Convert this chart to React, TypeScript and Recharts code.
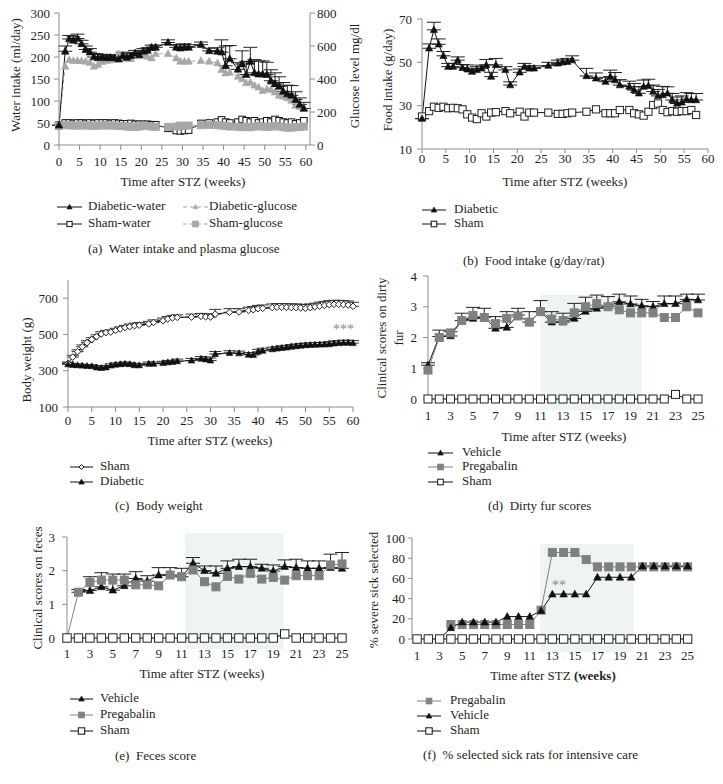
import React from 'react'
import { LineChart, Line, XAxis, YAxis, ErrorBar, ReferenceArea, ReferenceDot } from 'recharts'

const FONT = "'Liberation Serif', 'Times New Roman', serif"
const INK = '#231f20'
const AXIS = '#8c8c8c'
const BLACK = '#111111'
const GRAY_A = '#a8a8a8'
const GRAY_P = '#808080'
const SHADE = '#eef3f4'

// (a) water intake + glucose
const weeksA = [0, 1.5, 2.5, 3.5, 4.5, 5.5, 6.5, 7.5, 8.5, 9.5,
  10.5, 11.5, 12.5, 13.5, 14.5, 15.5, 16.5, 17.5, 18.5, 19.5,
  20.5, 21.5, 22.5, 23.5, 26.5, 28.5, 29.5, 30.5, 31.5, 34.5,
  36.5, 38.5, 39.5, 40.5, 41.5, 43.5, 44.5, 45.5, 46.5, 47.5,
  48.5, 49.5, 50.5, 51.5, 52.5, 53.5, 54.5, 55.5, 56.5, 57.5,
  58.5, 59.5]
const diabeticWater = [45, 213, 241, 238, 242, 230, 217, 211, 200, 198,
  200, 198, 199, 198, 195, 203, 199, 203, 209, 205,
  213, 215, 222, 222, 233, 222, 220, 222, 222, 228,
  214, 213, 211, 180, 196, 172, 184, 160, 190, 164,
  161, 161, 160, 146, 139, 133, 122, 116, 113, 103,
  92, 83]
const diabeticWaterErr = [0, 12, 8, 8, 10, 8, 8, 8, 8, 8,
  6, 6, 6, 6, 6, 8, 8, 6, 6, 6,
  6, 6, 5, 5, 6, 6, 8, 8, 6, 6,
  6, 8, 28, 45, 30, 15, 30, 30, 32, 30,
  30, 30, 28, 25, 25, 22, 20, 20, 22, 18,
  15, 14]
const diabeticGlucose = [120, 477, 517, 511, 511, 511, 507, 500, 477, 487,
  505, 511, 515, 520, 551, 527, 525, 523, 547, 540,
  547, 537, 527, 553, 553, 527, 507, 507, 507, 511,
  507, 497, 457, 436, 440, 416, 400, 376, 380, 362,
  350, 329, 340, 335, 320, 301, 295, 285, 270, 240,
  232, 225]
const shamWater = [45, 50, 50, 49, 50, 50, 49, 50, 49, 50,
  50, 50, 49, 50, 49, 48, 48, 49, 47, 47,
  47, 47, 46, 46, 38, 33, 32, 33, 34, 49,
  50, 52, 57, 52, 50, 52, 58, 55, 52, 55,
  50, 52, 55, 52, 58, 55, 52, 50, 52, 48,
  50, 55]
const shamGlucose = [115, 120, 120, 118, 118, 120, 118, 118, 116, 118,
  118, 120, 118, 118, 115, 115, 112, 112, 110, 112,
  118, 115, 112, 110, 110, 112, 118, 115, 118, 120,
  122, 120, 118, 115, 112, 110, 108, 110, 108, 112,
  115, 112, 110, 112, 115, 112, 108, 105, 106, 108,
  110, 112]

// (b) food intake
const weeksB = [0, 1.5, 2.5, 3.5, 4.5, 5.5, 6.5, 7.5, 8.5, 9.5,
  10.5, 11.5, 12.5, 13.5, 14.5, 15.5, 17.5, 18.5, 20.5, 21.5,
  22.5, 23.5, 26.5, 28.5, 29.5, 30.5, 31.5, 34.5, 36.5, 38.5,
  39.5, 40.5, 41.5, 43.5, 44.5, 45.5, 46.5, 47.5, 48.5, 49.5,
  50.5, 51.5, 52.5, 53.5, 54.5, 55.5, 56.5, 57.5]
const diabeticFood = [24, 56.5, 65, 58.3, 53, 48, 48, 51, 47.5, 46.8,
  45.7, 46.5, 47.2, 48.8, 43.4, 48.8, 46.5, 39.5, 45.4, 48,
  47.2, 47.2, 48.5, 49.5, 50, 50.3, 51, 43.7, 42.6, 41.1,
  43.4, 41.8, 39.5, 38.8, 37.2, 35.7, 38.8, 39.2, 36.5, 34.5,
  34.9, 35.7, 32.6, 31, 31.5, 33, 32.6, 32.6]
const diabeticFoodErr = [0, 2, 3.5, 2.5, 2, 1.5, 1.5, 1.5, 1.5, 2,
  1.5, 1.5, 1.5, 2.5, 2, 3, 1.5, 1.5, 1.5, 1.5,
  1.2, 1.2, 1.5, 1.5, 1.5, 1.5, 2, 3.5, 2.5, 2,
  3, 3.5, 2.5, 2.5, 3, 3, 3, 3, 3, 3,
  4, 3, 3, 3, 3, 3, 3, 3]
const shamFood = [25, 27.5, 29.5, 29, 29.5, 28.8, 29, 28.8, 28.3, 26,
  24.5, 23.8, 26.5, 25, 26.8, 27, 27.5, 26.5, 27.2, 25,
  26.8, 26.8, 26.8, 26.2, 26.2, 26.5, 26.8, 27.2, 28.3, 26.5,
  26.5, 26.5, 28, 28, 26.5, 26, 25.4, 27.2, 30.3, 31,
  28, 27, 27.5, 27.2, 27.5, 27.5, 28, 25.7]

// (c) body weight
const weeksC = [0, 1, 2, 3, 4, 5, 6, 7, 8, 9, 10, 11, 12, 13, 14, 15,
  17, 18, 20, 21, 22, 23, 26, 28, 29, 30, 31, 34, 36, 38, 39, 40, 41,
  43, 44, 45, 46, 47, 48, 49, 50, 51, 52, 53, 54, 55, 56, 57, 58, 59, 60]
const shamWeight = [340, 375, 405, 432, 455, 472, 488, 503, 510, 513, 522, 530, 538, 543, 548, 551,
  558, 566, 576, 585, 591, 594, 596, 600, 597, 596, 612, 622, 624, 632, 636, 642, 644,
  648, 650, 650, 649, 648, 648, 646, 644, 648, 652, 656, 660, 664, 666, 666, 664, 662, 655]
const shamWeightErr = [8, 10, 10, 10, 10, 10, 10, 12, 12, 12, 12, 12, 12, 14, 14, 14,
  14, 14, 14, 14, 14, 14, 16, 16, 16, 16, 26, 20, 18, 18, 18, 18, 18,
  20, 20, 20, 20, 20, 20, 20, 20, 20, 20, 22, 22, 22, 22, 22, 22, 22, 22]
const diabeticWeight = [335, 332, 330, 328, 326, 325, 318, 315, 318, 328, 333, 336, 338, 336, 330, 330,
  338, 338, 342, 346, 348, 352, 356, 366, 362, 356, 392, 398, 396, 388, 386, 404, 410,
  418, 422, 425, 428, 432, 435, 438, 440, 442, 443, 444, 445, 446, 450, 452, 454, 454, 452]
const diabeticWeightErr = [8, 8, 8, 8, 8, 8, 10, 10, 10, 10, 10, 10, 10, 10, 10, 10,
  10, 10, 10, 10, 10, 12, 12, 12, 14, 14, 14, 12, 12, 12, 12, 14, 14,
  12, 12, 12, 12, 12, 12, 12, 12, 12, 12, 12, 12, 14, 14, 14, 14, 14, 14]

// (d)-(f) weekly scores
const weeks25 = [1, 2, 3, 4, 5, 6, 7, 8, 9, 10, 11, 12, 13, 14, 15, 16, 17, 18, 19, 20, 21, 22, 23, 24, 25]
const vehicleFur = [1.1, 2.03, 2.05, 2.55, 2.62, 2.66, 2.3, 2.33, 2.73, 2.5, 2.84, 2.5, 2.5, 2.62, 2.85, 2.95, 3.02, 3.16, 3.09, 3.03, 3.0, 3.1, 3.1, 3.24, 3.22]
const vehicleFurErr = [0.08, 0.21, 0.14, 0.24, 0.36, 0.29, 0.38, 0.51, 0.22, 0.34, 0.36, 0.34, 0.29, 0.49, 0.46, 0.43, 0.31, 0.25, 0.26, 0.21, 0.17, 0.25, 0.25, 0.17, 0.19]
const pregabalinFur = [0.94, 2.0, 2.15, 2.55, 2.72, 2.65, 2.45, 2.62, 2.7, 2.5, 2.84, 2.6, 2.55, 2.8, 3.0, 3.1, 3.0, 2.9, 2.8, 2.8, 2.8, 2.65, 2.65, 3.0, 2.8]
const shamFur = [0, 0, 0, 0, 0, 0, 0, 0, 0, 0, 0, 0, 0, 0, 0, 0, 0, 0, 0, 0, 0, 0, 0.15, 0, 0]

const vehicleFeces = [null, 1.36, 1.41, 1.52, 1.42, 1.55, 1.77, 1.69, 1.87, 1.87, 1.82, 2.22, 2.0, 1.92, 2.07, 2.12, 2.12, 2.07, 1.99, 2.12, 2.09, 2.07, 2.07, 2.09, 2.07]
const vehicleFecesErr = [0, 0.08, 0.41, 0.42, 0.48, 0.35, 0.2, 0.16, 0.22, 0.22, 0.25, 0.17, 0.14, 0.22, 0.22, 0.22, 0.22, 0.12, 0.18, 0.2, 0.25, 0.22, 0.22, 0.4, 0.47]
const pregabalinFeces = [0, 1.36, 1.65, 1.72, 1.72, 1.72, 1.58, 1.58, 1.55, 1.87, 1.82, 2.02, 1.67, 1.52, 1.83, 1.75, 1.92, 1.75, 1.8, 1.72, 1.85, 1.85, 1.85, 2.17, 2.2]
const shamFeces = [0, 0, 0, 0, 0, 0, 0, 0, 0, 0, 0, 0, 0, 0, 0, 0, 0, 0, 0, 0.12, 0, 0, 0, 0, 0]

const vehicleSick = [null, null, 0, 11.1, 16.7, 16.7, 16.7, 16.7, 22.2, 22.2, 22.2, 28, 44.4, 44.4, 44.4, 44.4, 61.1, 61.1, 61.1, 61.1, 72.2, 72.2, 72.2, 72.2, 72.2]
const pregabalinSick = [null, null, null, 14.3, 14.3, 14.3, 14.3, 14.3, 14.3, 14.3, 14.3, 28.6, 85.7, 85.7, 85.7, 78.6, 71.4, 71.4, 71.4, 71.4, 71.4, 71.4, 71.4, 71.4, 71.4]
const shamSick = [0, 0, 0, 0, 0, 0, 0, 0, 0, 0, 0, 0, 0, 0, 0, 0, 0, 0, 0, 0, 0, 0, 0, 0, 0]

const ticks60 = [0, 5, 10, 15, 20, 25, 30, 35, 40, 45, 50, 55, 60]
const ticksOdd = [1, 3, 5, 7, 9, 11, 13, 15, 17, 19, 21, 23, 25]

const up = (v: number | null, e: number) => (v == null ? null : [0, e])

const tableA = weeksA.map((w, i) => ({
  week: w, dWater: diabeticWater[i], dWaterErr: up(diabeticWater[i], diabeticWaterErr[i]),
  dGlu: diabeticGlucose[i], sWater: shamWater[i], sGlu: shamGlucose[i],
}))
const tableB = weeksB.map((w, i) => ({
  week: w, diabetic: diabeticFood[i], diabeticErr: up(diabeticFood[i], diabeticFoodErr[i]), sham: shamFood[i],
}))
const tableC = weeksC.map((w, i) => ({
  week: w, sham: shamWeight[i], shamErr: up(shamWeight[i], shamWeightErr[i]),
  diabetic: diabeticWeight[i], diabeticErr: up(diabeticWeight[i], diabeticWeightErr[i]),
}))
const tableD = weeks25.map((w, i) => ({
  week: w, vehicle: vehicleFur[i], vehicleErr: up(vehicleFur[i], vehicleFurErr[i]), pregabalin: pregabalinFur[i], sham: shamFur[i],
}))
const tableE = weeks25.map((w, i) => ({
  week: w, vehicle: vehicleFeces[i], vehicleErr: up(vehicleFeces[i], vehicleFecesErr[i]), pregabalin: pregabalinFeces[i], sham: shamFeces[i],
}))
const tableF = weeks25.map((w, i) => ({
  week: w, vehicle: vehicleSick[i], pregabalin: pregabalinSick[i], sham: shamSick[i],
}))

type Shape = 'tri' | 'sq' | 'dia'

const drawMarker = (shape: Shape, s: number, fill: string, stroke: string, cx: number, cy: number, key: string) => {
  if (shape === 'tri') {
    return <polygon key={key} points={`${cx},${cy - s * 1.05} ${cx - s},${cy + s * 0.75} ${cx + s},${cy + s * 0.75}`} fill={fill} stroke={stroke} strokeWidth={0.6} />
  }
  if (shape === 'sq') {
    return <rect key={key} x={cx - s} y={cy - s} width={s * 2} height={s * 2} fill={fill} stroke={stroke} strokeWidth={1} />
  }
  return <polygon key={key} points={`${cx},${cy - s} ${cx + s},${cy} ${cx},${cy + s} ${cx - s},${cy}`} fill={fill} stroke={stroke} strokeWidth={1} />
}

const marker = (shape: Shape, s: number, fill: string, stroke: string, skipZero = false) => (p: any) => {
  const { cx, cy, index, value } = p
  const key = `${shape}-${index}`
  if (cx == null || cy == null || value == null || (skipZero && value === 0)) return <g key={key} />
  return drawMarker(shape, s, fill, stroke, cx, cy, key)
}

const tickStyle = { fontSize: 13, fill: INK, fontFamily: FONT }

const axisProps = {
  axisLine: { stroke: AXIS },
  tickLine: { stroke: AXIS },
  tick: tickStyle,
  interval: 0 as const,
}

function PanelA() {
  return (
    <LineChart width={366} height={195} data={tableA} margin={{ top: 13, right: 6, bottom: 5, left: 14 }}>
      <XAxis type="number" dataKey="week" domain={[0, 61]} ticks={ticks60} height={45} tickSize={5} tickMargin={7} {...axisProps} />
      <YAxis yAxisId="left" domain={[0, 300]} ticks={[0, 50, 100, 150, 200, 250, 300]} width={45} tickSize={5} tickMargin={4} {...axisProps} />
      <YAxis yAxisId="right" orientation="right" domain={[0, 800]} ticks={[0, 200, 400, 600, 800]} width={50} tickSize={5} tickMargin={2} {...axisProps} />
      <Line yAxisId="left" dataKey="sWater" stroke={BLACK} strokeWidth={1} dot={marker('sq', 3.3, '#fff', BLACK)} isAnimationActive={false} />
      <Line yAxisId="right" dataKey="sGlu" stroke={GRAY_A} strokeWidth={1} strokeDasharray="4 3" dot={marker('sq', 3.5, GRAY_A, GRAY_A)} isAnimationActive={false} />
      <Line yAxisId="right" dataKey="dGlu" stroke={GRAY_A} strokeWidth={1} strokeDasharray="4 3" dot={marker('tri', 3.8, GRAY_A, GRAY_A)} isAnimationActive={false} />
      <Line yAxisId="left" dataKey="dWater" stroke={BLACK} strokeWidth={1} dot={marker('tri', 3.8, BLACK, BLACK)} isAnimationActive={false}>
        <ErrorBar dataKey="dWaterErr" width={7} stroke="#222" strokeWidth={1} direction="y" isAnimationActive={false} />
      </Line>
    </LineChart>
  )
}

function PanelB() {
  return (
    <LineChart width={360} height={195} data={tableB} margin={{ top: 19, right: 12, bottom: 4, left: 22 }}>
      <XAxis type="number" dataKey="week" domain={[0, 60]} ticks={ticks60} height={42} tickSize={4} tickMargin={1} {...axisProps} />
      <YAxis domain={[10, 70]} ticks={[10, 30, 50, 70]} width={40} tickSize={5} tickMargin={5} {...axisProps} />
      <Line dataKey="sham" stroke={BLACK} strokeWidth={1} dot={marker('sq', 3.6, '#fff', '#222')} isAnimationActive={false} />
      <Line dataKey="diabetic" stroke={BLACK} strokeWidth={1} dot={marker('tri', 3.6, BLACK, BLACK)} isAnimationActive={false}>
        <ErrorBar dataKey="diabeticErr" width={7} stroke="#222" strokeWidth={1} direction="y" isAnimationActive={false} />
      </Line>
    </LineChart>
  )
}

function PanelC() {
  return (
    <LineChart width={360} height={190} data={tableC} margin={{ top: 20, right: 7, bottom: 3, left: 20 }}>
      <XAxis type="number" dataKey="week" domain={[0, 60]} ticks={ticks60} height={40} tickSize={5} tickMargin={4} {...axisProps} />
      <YAxis domain={[100, 800]} ticks={[100, 300, 500, 700]} width={48} tickSize={5} tickMargin={5} {...axisProps} />
      <Line dataKey="sham" stroke={BLACK} strokeWidth={1} dot={marker('dia', 3.3, '#fff', '#222')} isAnimationActive={false}>
        <ErrorBar dataKey="shamErr" width={6} stroke="#333" strokeWidth={1} direction="y" isAnimationActive={false} />
      </Line>
      <Line dataKey="diabetic" stroke={BLACK} strokeWidth={1} dot={marker('tri', 3.3, BLACK, BLACK)} isAnimationActive={false}>
        <ErrorBar dataKey="diabeticErr" width={6} stroke="#333" strokeWidth={1} direction="y" isAnimationActive={false} />
      </Line>
      <ReferenceDot x={58} y={528} r={0} fill="none" stroke="none"
        label={{ value: '***', position: 'center', fill: '#8a8a8a', fontSize: 14, fontFamily: FONT }} />
    </LineChart>
  )
}

function PanelD() {
  return (
    <LineChart width={360} height={190} data={tableD} margin={{ top: 16, right: 22, bottom: 3, left: 20 }}>
      <ReferenceArea x1={11} x2={20} y1={-0.36} y2={3.38} ifOverflow="visible" fill={SHADE} fillOpacity={1} stroke="none" />
      <XAxis type="number" dataKey="week" domain={[1, 25]} ticks={ticksOdd} height={48} tickSize={0} tickMargin={12}
        {...axisProps} axisLine={false} tickLine={false} />
      <YAxis domain={[0, 4]} ticks={[0, 1, 2, 3, 4]} width={48} tickSize={5} tickMargin={6} {...axisProps} />
      <Line dataKey="sham" stroke={BLACK} strokeWidth={1} dot={marker('sq', 4, '#fff', '#222')} isAnimationActive={false} />
      <Line dataKey="vehicle" stroke={BLACK} strokeWidth={1} dot={marker('tri', 3.8, BLACK, BLACK)} isAnimationActive={false}>
        <ErrorBar dataKey="vehicleErr" width={7} stroke="#222" strokeWidth={1} direction="y" isAnimationActive={false} />
      </Line>
      <Line dataKey="pregabalin" stroke={GRAY_P} strokeWidth={1} dot={marker('sq', 4, GRAY_P, GRAY_P)} isAnimationActive={false} />
    </LineChart>
  )
}

function PanelE() {
  return (
    <LineChart width={360} height={170} data={tableE} margin={{ top: 17, right: 18, bottom: 3, left: 19 }}>
      <ReferenceArea x1={11.3} x2={19.9} y1={-0.33} y2={3.12} ifOverflow="visible" fill={SHADE} fillOpacity={1} stroke="none" />
      <XAxis type="number" dataKey="week" domain={[1, 25]} ticks={ticksOdd} height={49} tickSize={0} tickMargin={11}
        {...axisProps} axisLine={false} tickLine={false} />
      <YAxis domain={[0, 3]} ticks={[0, 1, 2, 3]} width={48} tickSize={5} tickMargin={7} {...axisProps} />
      <Line dataKey="sham" stroke={BLACK} strokeWidth={1} dot={marker('sq', 4.2, '#fff', '#222')} isAnimationActive={false} />
      <Line dataKey="vehicle" stroke={BLACK} strokeWidth={1} dot={marker('tri', 3.8, BLACK, BLACK, true)} isAnimationActive={false}>
        <ErrorBar dataKey="vehicleErr" width={7} stroke="#222" strokeWidth={1} direction="y" isAnimationActive={false} />
      </Line>
      <Line dataKey="pregabalin" stroke={GRAY_P} strokeWidth={1} dot={marker('sq', 4, GRAY_P, GRAY_P, true)} isAnimationActive={false} />
    </LineChart>
  )
}

function PanelF() {
  return (
    <LineChart width={360} height={170} data={tableF} margin={{ top: 18, right: 29, bottom: 2, left: 12 }}>
      <ReferenceArea x1={11.9} x2={20.2} y1={-13} y2={94} ifOverflow="visible" fill={SHADE} fillOpacity={1} stroke="none" />
      <XAxis type="number" dataKey="week" domain={[0.55, 25.3]} ticks={ticksOdd} height={49} tickSize={0} tickMargin={12}
        {...axisProps} axisLine={false} tickLine={false} />
      <YAxis domain={[0, 100]} ticks={[0, 20, 40, 60, 80, 100]} width={40} tickSize={4} tickMargin={3} {...axisProps} />
      <Line dataKey="sham" stroke={BLACK} strokeWidth={1} dot={marker('sq', 4.2, '#fff', '#222')} isAnimationActive={false} />
      <Line dataKey="pregabalin" stroke={GRAY_P} strokeWidth={1} dot={marker('sq', 4, GRAY_P, GRAY_P)} isAnimationActive={false} />
      <Line dataKey="vehicle" stroke={BLACK} strokeWidth={1} dot={marker('tri', 3.8, BLACK, BLACK, true)} isAnimationActive={false} />
      <ReferenceDot x={13.6} y={53} r={0} fill="none" stroke="none"
        label={{ value: '**', position: 'center', fill: '#8a8a8a', fontSize: 14, fontFamily: FONT }} />
    </LineChart>
  )
}

interface KeyProps {
  sx: number
  tx: number
  cy: number
  sw: number
  text: string
  shape: Shape
  size: number
  fill: string
  stroke: string
  line: string
  dash?: string
}

function Key({ sx, tx, cy, sw, text, shape, size, fill, stroke, line, dash }: KeyProps) {
  return (
    <>
      <svg width={sw} height={12} style={{ position: 'absolute', left: sx, top: cy - 6 }}>
        <line x1={0} y1={6} x2={sw} y2={6} stroke={line} strokeWidth={1} strokeDasharray={dash} />
        {drawMarker(shape, size, fill, stroke, sw / 2, 6, 'k')}
      </svg>
      <div style={{ position: 'absolute', left: tx, top: cy - 9, lineHeight: '16px', fontSize: 13, whiteSpace: 'pre' }}>{text}</div>
    </>
  )
}

function Caption({ x, cy, text }: { x: number; cy: number; text: string }) {
  return (
    <div style={{ position: 'absolute', left: x, top: cy - 9, lineHeight: '16px', fontSize: 13, whiteSpace: 'pre' }}>{text}</div>
  )
}

// axis title centred on (x, y); vertical ones read bottom to top
function Title({ x, y, vertical = false, children }: { x: number; y: number; vertical?: boolean; children: React.ReactNode }) {
  return (
    <div style={{
      position: 'absolute', left: x, top: y, fontSize: 13, lineHeight: '17px', whiteSpace: 'pre', textAlign: 'center',
      transform: `translate(-50%, -50%)${vertical ? ' rotate(-90deg)' : ''}`,
    }}>{children}</div>
  )
}

export default function App() {
  return (
    <div style={{ position: 'absolute', left: 0, top: 0, width: 723, height: 784, background: '#fff', fontFamily: FONT, color: INK, overflow: 'hidden' }}>
      <div style={{ position: 'absolute', left: 0, top: 0 }}><PanelA /></div>
      <div style={{ position: 'absolute', left: 360, top: 0 }}><PanelB /></div>
      <div style={{ position: 'absolute', left: 0, top: 260 }}><PanelC /></div>
      <div style={{ position: 'absolute', left: 360, top: 260 }}><PanelD /></div>
      <div style={{ position: 'absolute', left: 0, top: 520 }}><PanelE /></div>
      <div style={{ position: 'absolute', left: 360, top: 520 }}><PanelF /></div>

      <Title x={15} y={75} vertical>Water intake (ml/day)</Title>
      <Title x={354} y={76} vertical>Glucose level mg/dl</Title>
      <Title x={183} y={181}>Time after STZ (weeks)</Title>

      <Title x={387} y={80} vertical>Food intake (g/day)</Title>
      <Title x={565} y={181}>Time after STZ (weeks)</Title>

      <Title x={26} y={360} vertical>Body weight (g)</Title>
      <Title x={210} y={440}>Time after STZ (weeks)</Title>

      <Title x={390} y={338} vertical>{'Clinical scores on dirty\nfur'}</Title>
      <Title x={564} y={436}>Time after STZ (weeks)</Title>

      <Title x={37} y={588} vertical>Clinical scores on feces</Title>
      <Title x={202} y={673}>Time after STZ (weeks)</Title>

      <Title x={373} y={590} vertical>% severe sick selected</Title>
      <Title x={553} y={675}>Time after STZ <b>(weeks)</b></Title>

      <Key sx={57} tx={88} cy={207} sw={25} text="Diabetic-water" shape="tri" size={2.6} fill={BLACK} stroke={BLACK} line={BLACK} />
      <Key sx={57} tx={88} cy={224} sw={25} text="Sham-water" shape="sq" size={2.6} fill="#fff" stroke={BLACK} line={BLACK} />
      <Key sx={183} tx={209} cy={207} sw={25} text="Diabetic-glucose" shape="tri" size={2.4} fill={GRAY_A} stroke={GRAY_A} line={GRAY_A} dash="4 3" />
      <Key sx={183} tx={209} cy={224} sw={25} text="Sham-glucose" shape="sq" size={2.8} fill={GRAY_A} stroke={GRAY_A} line={GRAY_A} dash="4 3" />
      <Caption x={88} cy={250} text="(a)  Water intake and plasma glucose" />

      <Key sx={422} tx={454} cy={210} sw={24} text="Diabetic" shape="tri" size={2.8} fill={BLACK} stroke={BLACK} line={BLACK} />
      <Key sx={422} tx={454} cy={224} sw={24} text="Sham" shape="sq" size={2.8} fill="#fff" stroke={BLACK} line={BLACK} />
      <Caption x={463} cy={262} text="(b)  Food intake (g/day/rat)" />

      <Key sx={70} tx={100} cy={467} sw={23} text="Sham" shape="dia" size={2.5} fill="#fff" stroke={BLACK} line={BLACK} />
      <Key sx={70} tx={100} cy={482} sw={23} text="Diabetic" shape="tri" size={2.8} fill={BLACK} stroke={BLACK} line={BLACK} />
      <Caption x={115} cy={507} text="(c)  Body weight" />

      <Key sx={428} tx={462} cy={453} sw={25} text="Vehicle" shape="tri" size={2.8} fill={BLACK} stroke={BLACK} line={BLACK} />
      <Key sx={428} tx={462} cy={467} sw={25} text="Pregabalin" shape="sq" size={2.8} fill={GRAY_P} stroke={GRAY_P} line={GRAY_P} />
      <Key sx={428} tx={462} cy={482} sw={25} text="Sham" shape="sq" size={2.8} fill="#fff" stroke={BLACK} line={BLACK} />
      <Caption x={488} cy={507} text="(d)  Dirty fur scores" />

      <Key sx={70} tx={100} cy={699} sw={23} text="Vehicle" shape="tri" size={2.8} fill={BLACK} stroke={BLACK} line={BLACK} />
      <Key sx={70} tx={100} cy={715} sw={23} text="Pregabalin" shape="sq" size={2.8} fill={GRAY_P} stroke={GRAY_P} line={GRAY_P} />
      <Key sx={70} tx={100} cy={731} sw={23} text="Sham" shape="sq" size={3.2} fill="#fff" stroke={BLACK} line={BLACK} />
      <Caption x={115} cy={757} text="(e)  Feces score" />

      <Key sx={417} tx={450} cy={701} sw={24} text="Pregabalin" shape="sq" size={2.8} fill={GRAY_P} stroke={GRAY_P} line={GRAY_P} />
      <Key sx={417} tx={450} cy={716} sw={24} text="Vehicle" shape="tri" size={2.8} fill={BLACK} stroke={BLACK} line={BLACK} />
      <Key sx={417} tx={450} cy={731} sw={24} text="Sham" shape="sq" size={3.2} fill="#fff" stroke={BLACK} line={BLACK} />
      <Caption x={423} cy={756} text="(f)  % selected sick rats for intensive care" />
    </div>
  )
}
